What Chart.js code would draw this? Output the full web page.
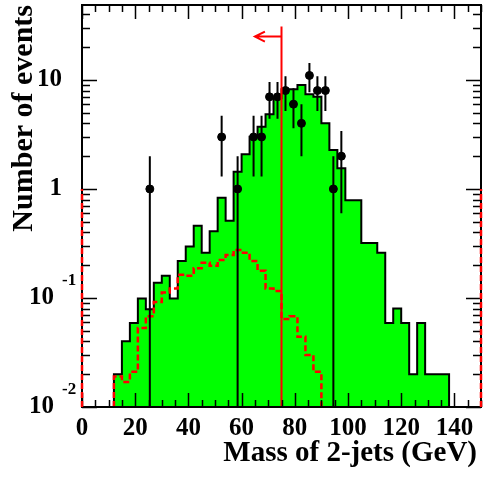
<!DOCTYPE html>
<html>
<head>
<meta charset="utf-8">
<script src="https://cdn.jsdelivr.net/npm/chart.js@4/dist/chart.umd.min.js"></script>
<style>
    body { margin: 0; background: #fff; }
    canvas { display: block; }
</style>
</head>
<body>
<canvas id="massChart" width="486" height="481"></canvas>
<script>
// Histogram binning (GeV)
const binWidth = 3;
const bkgStart = 12;
const sigStart = 12;

// Background expectation (green), one value per 3 GeV bin from 12 to 138
const bkgValues = [0.020, 0.040, 0.059, 0.099, 0.079, 0.138, 0.16, 0.099, 0.218, 0.296,
    0.46, 0.26, 0.41, 0.83, 0.51, 1.44, 2.08, 3.02, 3.72, 4.84,
    6.8, 8.2, 8.2, 9.0, 7.4, 7.0, 4.0, 2.28, 1.55, 0.79,
    0.79, 0.32, 0.32, 0.26, 0.059, 0.080, 0.059, 0.020, 0.059, 0.020,
    0.020, 0.020];

// Signal (red dashed), bins from 12 to 90
const sigValues = [0.019, 0.017, 0.021, 0.053, 0.068, 0.092, 0.112, 0.122, 0.163, 0.16,
    0.187, 0.211, 0.198, 0.223, 0.248, 0.276, 0.26, 0.218, 0.178, 0.122,
    0.116, 0.064, 0.068, 0.044, 0.030, 0.021];

// Observed events
const dataMass = [25.5, 52.5, 58.5, 64.5, 67.5, 70.5, 73.5, 76.5, 79.5, 82.5, 85.5, 88.5, 91.5, 94.5, 97.5];
const dataCounts = [1, 3, 1, 3, 3, 7, 7, 8, 6, 4, 11, 8, 8, 1, 2];
const dataErrors = [1, 1.7, 1, 1.7, 1.7, 2.6, 2.6, 2.8, 2.4, 2, 3.3, 2.8, 2.8, 1, 1.4];

// Signal edge lines on the frame
const edgeMass = [0, 150];
const edgeValue = 1;

// Mass cut and arrow
const cutMass = 75;
const cutTop = 31;
const arrowEnd = 65;
const arrowLevel = 25;

// Axes
const xMin = 0, xMax = 150;
const yMin = 0.01, yMax = 48.7;
const xTickValues = [0, 20, 40, 60, 80, 100, 120, 140];
const yTickValues = [0.01, 0.1, 1, 10];
const yTickBase = ['10', '10', '1', '10'];
const yTickExp = ['-2', '-1', '', ''];

const FONT = '"Liberation Serif", "Times New Roman", serif';

function stepPoints(start, values) {
    const pts = [{ x: start, y: yMin }];
    values.forEach((v, i) => pts.push({ x: start + i * binWidth, y: v }));
    const end = start + values.length * binWidth;
    pts.push({ x: end, y: values[values.length - 1] });
    pts.push({ x: end, y: yMin });
    return pts;
}

const framePlugin = {
    id: 'frame',
    afterDatasetsDraw(chart) {
        const ctx = chart.ctx;
        const xs = chart.scales.x, ys = chart.scales.y;
        const area = chart.chartArea;
        ctx.save();

        // cut line with arrow
        ctx.strokeStyle = '#ff0000';
        ctx.lineWidth = 2;
        const cx = xs.getPixelForValue(cutMass);
        const ay = ys.getPixelForValue(arrowLevel);
        const ax = xs.getPixelForValue(arrowEnd);
        ctx.beginPath();
        ctx.moveTo(cx, area.bottom);
        ctx.lineTo(cx, ys.getPixelForValue(cutTop));
        ctx.moveTo(cx, ay);
        ctx.lineTo(ax, ay);
        ctx.moveTo(ax + 10, ay - 5);
        ctx.lineTo(ax, ay);
        ctx.lineTo(ax + 10, ay + 5);
        ctx.stroke();

        // error bars
        ctx.strokeStyle = '#000';
        ctx.lineWidth = 2;
        ctx.beginPath();
        dataMass.forEach((m, i) => {
            const px = xs.getPixelForValue(m);
            const lo = dataCounts[i] - dataErrors[i];
            const y0 = lo > yMin ? ys.getPixelForValue(lo) : area.bottom;
            const y1 = ys.getPixelForValue(dataCounts[i] + dataErrors[i]);
            ctx.moveTo(px, y0);
            ctx.lineTo(px, y1);
        });
        ctx.stroke();
        ctx.restore();
    },
    afterDraw(chart) {
        const ctx = chart.ctx;
        const xs = chart.scales.x, ys = chart.scales.y;
        const area = chart.chartArea;
        ctx.save();

        // frame
        ctx.strokeStyle = '#000';
        ctx.lineWidth = 2;
        ctx.strokeRect(area.left, area.top, area.right - area.left, area.bottom - area.top);

        // x ticks, top and bottom, inside
        ctx.lineWidth = 1.5;
        ctx.beginPath();
        for (let v = xMin; v <= xMax; v += 5) {
            const px = Math.round(xs.getPixelForValue(v)) + 0.5;
            const len = v % 20 === 0 ? 14 : 7;
            ctx.moveTo(px, area.bottom);
            ctx.lineTo(px, area.bottom - len);
            ctx.moveTo(px, area.top);
            ctx.lineTo(px, area.top + len);
        }
        // y ticks, left and right, inside
        for (let d = -2; d <= 1; d++) {
            for (let m = 1; m <= 9; m++) {
                const v = m * Math.pow(10, d);
                if (v > yMax) continue;
                const py = Math.round(ys.getPixelForValue(v)) + 0.5;
                const len = m === 1 ? 15 : 8;
                ctx.moveTo(area.left, py);
                ctx.lineTo(area.left + len, py);
                ctx.moveTo(area.right, py);
                ctx.lineTo(area.right - len, py);
            }
        }
        ctx.stroke();

        // signal edges on the frame
        ctx.strokeStyle = '#ff0000';
        ctx.lineWidth = 2.5;
        ctx.setLineDash([6, 3]);
        ctx.beginPath();
        edgeMass.forEach(m => {
            const px = xs.getPixelForValue(m);
            ctx.moveTo(px, area.bottom);
            ctx.lineTo(px, ys.getPixelForValue(edgeValue));
        });
        ctx.stroke();
        ctx.setLineDash([]);

        // tick labels
        ctx.fillStyle = '#000';
        ctx.font = 'bold 25px ' + FONT;
        ctx.textAlign = 'center';
        ctx.textBaseline = 'alphabetic';
        xTickValues.forEach(v => {
            ctx.fillText(String(v), xs.getPixelForValue(v), 435);
        });

        yTickValues.forEach((v, i) => {
            const py = ys.getPixelForValue(v);
            ctx.textBaseline = 'middle';
            if (yTickExp[i]) {
                ctx.font = 'bold 25px ' + FONT;
                ctx.textAlign = 'right';
                ctx.fillText(yTickBase[i], 54, py);
                ctx.font = 'bold 17px ' + FONT;
                ctx.textAlign = 'left';
                ctx.fillText(yTickExp[i], 62, py - 17);
            } else {
                ctx.font = 'bold 25px ' + FONT;
                ctx.textAlign = 'right';
                ctx.fillText(yTickBase[i], 62, py);
            }
        });

        // axis titles
        ctx.font = 'bold 29px ' + FONT;
        ctx.textAlign = 'right';
        ctx.textBaseline = 'alphabetic';
        ctx.fillText('Mass of 2-jets (GeV)', 477, 461);

        ctx.translate(32, 5);
        ctx.rotate(-Math.PI / 2);
        ctx.font = 'bold 30px ' + FONT;
        ctx.textAlign = 'right';
        ctx.fillText('Number of events', 0, 0);

        ctx.restore();
    }
};

const ctx = document.getElementById('massChart').getContext('2d');

new Chart(ctx, {
    type: 'scatter',
    data: {
        datasets: [
            {
                type: 'line',
                label: 'Background',
                data: stepPoints(bkgStart, bkgValues),
                stepped: 'before',
                borderColor: '#000',
                borderWidth: 2,
                backgroundColor: '#00ff00',
                fill: { value: yMin },
                pointRadius: 0,
                order: 3
            },
            {
                type: 'line',
                label: 'Signal',
                data: stepPoints(sigStart, sigValues),
                stepped: 'before',
                borderColor: '#ff0000',
                borderWidth: 2.5,
                borderDash: [6, 3],
                fill: false,
                pointRadius: 0,
                order: 2
            },
            {
                label: 'Data',
                data: dataMass.map((m, i) => ({ x: m, y: dataCounts[i] })),
                backgroundColor: '#000',
                borderColor: '#000',
                pointRadius: 4,
                showLine: false,
                order: 1
            }
        ]
    },
    options: {
        responsive: false,
        animation: false,
        devicePixelRatio: 1,
        layout: { padding: { top: 5, right: 2, left: 0, bottom: 0 } },
        plugins: {
            legend: { display: false },
            tooltip: { enabled: false }
        },
        scales: {
            x: {
                type: 'linear',
                min: xMin,
                max: xMax,
                grid: { display: false },
                border: { display: false },
                ticks: { display: false },
                afterFit: s => { s.height = 74; }
            },
            y: {
                type: 'logarithmic',
                min: yMin,
                max: yMax,
                grid: { display: false },
                border: { display: false },
                ticks: { display: false },
                afterFit: s => { s.width = 82; }
            }
        }
    },
    plugins: [framePlugin]
});
</script>
</body>
</html>
